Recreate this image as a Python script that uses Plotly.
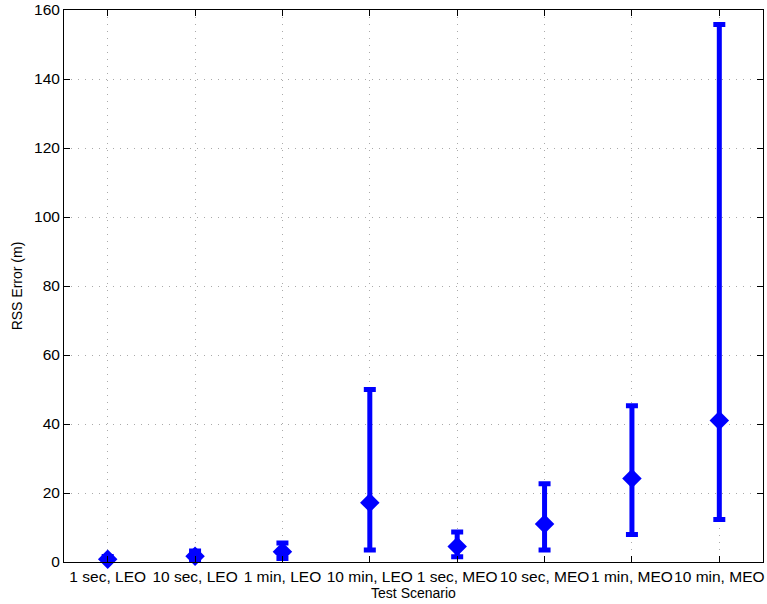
import plotly.graph_objects as go

categories = ["1 sec, LEO", "10 sec, LEO", "1 min, LEO", "10 min, LEO",
              "1 sec, MEO", "10 sec, MEO", "1 min, MEO", "10 min, MEO"]
x_pos = [1, 2, 3, 4, 5, 6, 7, 8]
mean_err = [0.8, 1.7, 3.0, 17.2, 4.5, 11.0, 24.2, 41.0]
low_err = [0.0, 0.6, 1.0, 3.5, 1.5, 3.5, 8.0, 12.3]
high_err = [1.6, 3.2, 5.5, 50.0, 8.7, 22.7, 45.3, 155.8]
y_ticks = [0, 20, 40, 60, 80, 100, 120, 140, 160]

plus = [h - m for h, m in zip(high_err, mean_err)]
minus = [m - l for m, l in zip(mean_err, low_err)]

fig = go.Figure()
fig.add_trace(go.Scatter(
    x=x_pos, y=mean_err, mode="markers",
    marker=dict(symbol="diamond", size=15, color="#0000ff"),
    error_y=dict(type="data", symmetric=False, array=plus, arrayminus=minus,
                 color="#0000ff", thickness=5, width=6),
    showlegend=False,
    cliponaxis=False,
))

font = "Liberation Sans, Arial, Helvetica, sans-serif"
fig.update_layout(
    width=767, height=604,
    margin=dict(l=64, r=4, t=10, b=42),
    paper_bgcolor="white", plot_bgcolor="white",
    font=dict(family=font, size=15, color="black"),
    xaxis=dict(
        range=[0.5, 8.5], tickvals=x_pos, ticktext=categories, tickangle=0,
        showline=True, linecolor="black", linewidth=1, mirror="ticks",
        ticks="inside", ticklen=6, tickcolor="black",
        showgrid=True, gridcolor="#aaaaaa", griddash="1px,6px", gridwidth=1,
        zeroline=False, automargin=False,
        title=dict(text="Test Scenario", font=dict(size=14), standoff=0),
        tickfont=dict(size=15.5),
    ),
    yaxis=dict(
        range=[0, 160], tickvals=y_ticks,
        showline=True, linecolor="black", linewidth=1, mirror="ticks",
        ticks="inside", ticklen=6, tickcolor="black",
        showgrid=True, gridcolor="#aaaaaa", griddash="1px,6px", gridwidth=1,
        zeroline=False, automargin=False,
        title=dict(text="RSS Error (m)", font=dict(size=14), standoff=8),
        tickfont=dict(size=15.5),
    ),
)

fig.write_html("out.html", config={"displayModeBar": False},
               post_script="document.body.style.margin='0';")
